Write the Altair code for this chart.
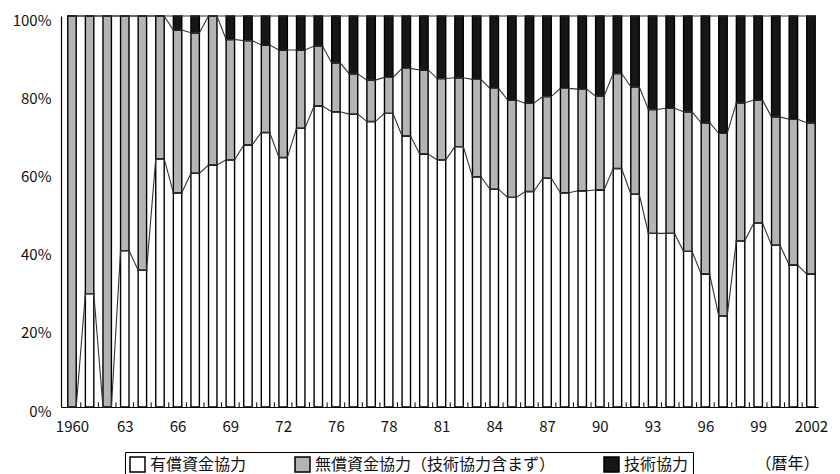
import altair as alt
import pandas as pd

years = list(range(1960, 2003))

# shares (%)
yushou = [0, 29, 0, 40, 35, 63.5, 54.8, 59.8, 61.9, 63.2, 67.0, 70.2, 63.8, 71.3, 77.0,
          75.5, 74.9, 73.0, 75.1, 69.3, 64.7, 63.2, 66.6, 58.9, 55.7, 53.6, 55.1, 58.5,
          54.8, 55.3, 55.5, 61.0, 54.4, 44.4, 44.4, 39.8, 34.0, 23.3, 42.5, 47.1, 41.4,
          36.3, 34.0]
mushou = [100, 71, 100, 60, 65, 36.5, 41.6, 35.9, 38.1, 30.8, 26.7, 22.4, 27.5, 20.0, 15.3,
          12.5, 10.3, 10.6, 9.2, 17.3, 21.5, 20.8, 17.6, 24.9, 25.8, 24.9, 22.6, 20.9,
          26.7, 26.0, 24.0, 24.3, 27.5, 31.7, 32.0, 35.7, 38.7, 46.7, 35.3, 31.4, 32.8,
          37.3, 38.7]
gijutsu = [0, 0, 0, 0, 0, 0, 3.6, 4.3, 0, 6.0, 6.3, 7.4, 8.7, 8.7, 7.7,
           12.0, 14.8, 16.4, 15.7, 13.4, 13.8, 16.0, 15.8, 16.2, 18.5, 21.5, 22.3, 20.6,
           18.5, 18.7, 20.5, 14.7, 18.1, 23.9, 23.6, 24.5, 27.3, 30.0, 22.2, 21.5, 25.8,
           26.4, 27.3]

series_names = ["有償資金協力", "無償資金協力（技術協力含まず）", "技術協力"]
series_colors = ["#ffffff", "#b4b4b4", "#161616"]

tick_years = [1960, 1963, 1966, 1969, 1972, 1975, 1978, 1981, 1984, 1987, 1990, 1993, 1996, 1999, 2002]
tick_labels = ["1960", "63", "66", "69", "72", "76", "78", "81", "84", "87", "90", "93", "96", "99", "2002"]
y_ticks = [0, 20, 40, 60, 80, 100]

rows = []
for i, yr in enumerate(years):
    for k, (name, vals) in enumerate(zip(series_names, [yushou, mushou, gijutsu])):
        rows.append({"year": yr, "series": name, "order": k, "share": vals[i]})
df = pd.DataFrame(rows)
gaps = pd.DataFrame({"year": years[:-1]})

FONT = "Noto Sans CJK JP"
label_expr = " : ".join(f"datum.value == {y} ? '{l}'" for y, l in zip(tick_years, tick_labels)) + " : ''"

xscale = alt.Scale(domain=[1959.375, 2002.4], nice=False, zero=False)
yscale = alt.Scale(domain=[0, 100], nice=False)

base = (
    alt.Chart(df)
    .transform_stack(stack="share", groupby=["year"], as_=["lo", "hi"],
                     sort=[alt.SortField("order", "ascending")])
    .transform_calculate(xl="datum.year - 0.24", xr="datum.year + 0.24")
)

bars = base.mark_bar(stroke="black", strokeWidth=1.4).encode(
    x=alt.X("xl:Q", scale=xscale,
            axis=alt.Axis(values=tick_years, labelExpr=label_expr, ticks=False, grid=False,
                          domainColor="black", domainWidth=1.2, labelFontSize=15,
                          labelFont=FONT, labelColor="#111", labelBaseline="middle",
                          labelPadding=19, labelFlush=False, labelOverlap=False,
                          title="（暦年）", titleX=726, titleY=56, titleBaseline="middle",
                          titleFontSize=16, titleFontWeight="normal", titleFont=FONT,
                          titleColor="#111")),
    x2="xr:Q",
    y=alt.Y("lo:Q", scale=yscale,
            axis=alt.Axis(values=y_ticks, labelExpr="datum.value + '%'", ticks=False,
                          grid=False, domainColor="black", domainWidth=1.2,
                          labelFontSize=15, labelFont=FONT, labelColor="#111",
                          labelPadding=10, labelOffset=4, title=None)),
    y2="hi:Q",
    color=alt.Color("series:N",
                    scale=alt.Scale(domain=series_names, range=series_colors),
                    sort=series_names,
                    legend=alt.Legend(orient="none", legendX=64, legendY=436,
                                      direction="horizontal", title=None,
                                      symbolType="square", symbolSize=225,
                                      symbolStrokeColor="black", symbolStrokeWidth=1.5,
                                      labelFontSize=16, labelFont=FONT, labelColor="#111",
                                      labelLimit=0, labelOffset=4, columnPadding=45,
                                      padding=4, strokeColor="black")),
)

lines = base.transform_fold(["xl", "xr"], as_=["side", "xpos"]).mark_line(
    color="#333333", strokeWidth=1.1
).encode(
    x=alt.X("xpos:Q", scale=xscale),
    y=alt.Y("hi:Q", scale=yscale),
    detail="series:N",
    order="xpos:Q",
)

gap_ticks = alt.Chart(gaps).transform_calculate(xb="datum.year + 0.5").mark_rule(
    color="black", strokeWidth=1
).encode(
    x=alt.X("xb:Q", scale=xscale),
    y=alt.datum(0),
    y2=alt.datum(1.2),
)

chart = (
    alt.layer(bars, lines, gap_ticks)
    .properties(
        width=757, height=391,
        autosize=alt.AutoSizeParams(type="none"),
        padding={"left": 61, "top": 16, "right": 22, "bottom": 67},
        background="white",
    )
    .configure_view(stroke=None)
)

chart.save("out.html", embed_options={"renderer": "svg", "actions": False})
